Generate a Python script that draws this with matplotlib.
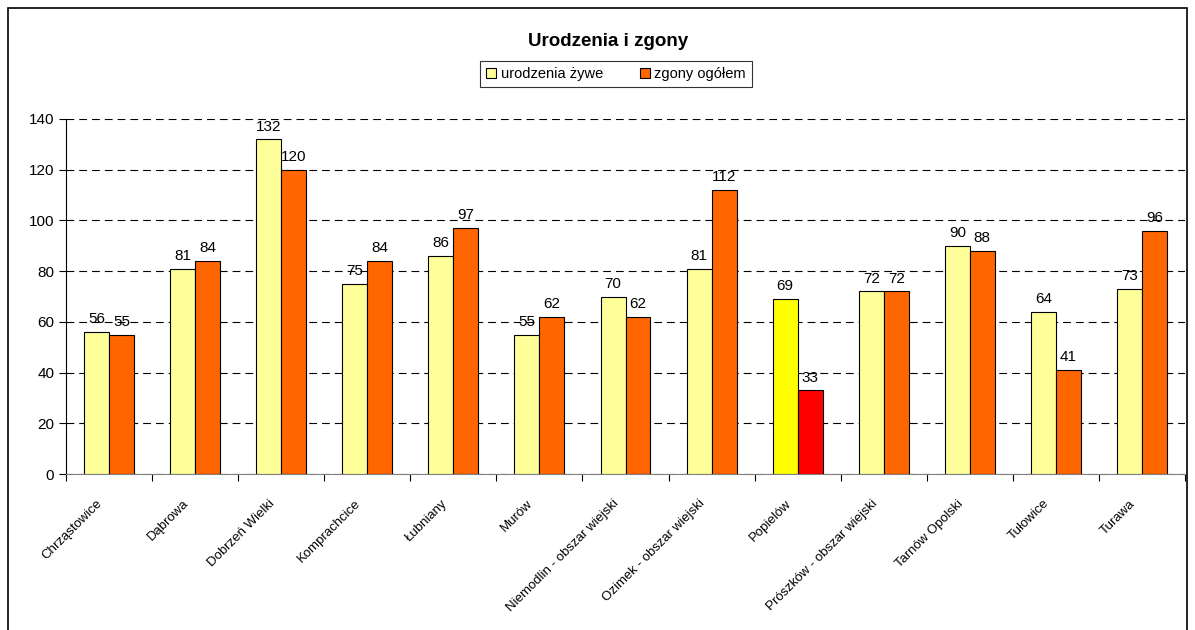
import numpy as np
import matplotlib.pyplot as plt
from matplotlib.patches import Rectangle, Patch
from matplotlib.transforms import ScaledTranslation

plt.rcParams['font.family'] = ['Liberation Sans', 'DejaVu Sans']

# data
gminy = ['Chrząstowice', 'Dąbrowa', 'Dobrzeń Wielki', 'Komprachcice', 'Łubniany',
         'Murów', 'Niemodlin - obszar wiejski', 'Ozimek - obszar wiejski', 'Popielów',
         'Prószków - obszar wiejski', 'Tarnów Opolski', 'Tułowice', 'Turawa']
urodzenia = [56, 81, 132, 75, 86, 55, 70, 81, 69, 72, 90, 64, 73]
zgony = [55, 84, 120, 84, 97, 62, 62, 112, 33, 72, 88, 41, 96]
wyrozniona = 'Popielów'

kol_ur = '#FFFF99'
kol_zg = '#FF6600'

fig = plt.figure(figsize=(11.95, 6.3), dpi=100)
fig.patches.append(Rectangle((8 / 1195, -0.1), 1179 / 1195, 1.1 - 8 / 630,
                             transform=fig.transFigure, fill=False,
                             edgecolor='black', linewidth=1.2))

ax = fig.add_axes([66 / 1195, 156 / 630, 1119 / 1195, 355 / 630])

x = np.arange(len(gminy))
w = 0.29
c_ur = ['#FFFF00' if g == wyrozniona else kol_ur for g in gminy]
c_zg = ['#FF0000' if g == wyrozniona else kol_zg for g in gminy]
b1 = ax.bar(x - w / 2, urodzenia, w, color=c_ur, edgecolor='black', linewidth=0.8, zorder=3)
b2 = ax.bar(x + w / 2, zgony, w, color=c_zg, edgecolor='black', linewidth=0.8, zorder=3)

for bars in (b1, b2):
    ax.bar_label(bars, padding=4, fontsize=11)

ax.set_xlim(-0.5, len(gminy) - 0.5)
ax.set_ylim(0, 140)
ax.set_yticks(range(0, 141, 20))
ax.tick_params(axis='y', labelsize=11, length=5, direction='out')
ax.yaxis.grid(True, linestyle=(0, (7, 4.5)), color='black', linewidth=0.8)

ax.set_xticks(np.arange(-0.5, len(gminy)), labels=[])
ax.tick_params(axis='x', which='major', length=5, direction='out')
ax.set_xticks(x, labels=gminy, minor=True)
ax.tick_params(axis='x', which='minor', length=0, pad=20, labelsize=9.5)
for lab in ax.get_xticklabels(minor=True):
    lab.set_rotation(45)
    lab.set_ha('right')
    lab.set_va('center')
    lab.set_rotation_mode('anchor')
    lab.set_transform(lab.get_transform() + ScaledTranslation(-6 / 72, 0, fig.dpi_scale_trans))

for s in ['top', 'right']:
    ax.spines[s].set_visible(False)
ax.spines['bottom'].set_color('#808080')

fig.text(608 / 1195, 1 - 42 / 630, 'Urodzenia i zgony', ha='center', va='center',
         fontsize=13.5, fontweight='bold')

uchwyty = [Patch(facecolor=kol_ur, edgecolor='black', linewidth=0.8),
           Patch(facecolor=kol_zg, edgecolor='black', linewidth=0.8)]
leg = fig.legend(uchwyty, ['urodzenia żywe', 'zgony ogółem'], loc='center',
                 bbox_to_anchor=(616 / 1195, 1 - 74 / 630), ncol=2, fontsize=10.5,
                 frameon=True, fancybox=False, edgecolor='black',
                 handlelength=0.7, handleheight=0.7, handletextpad=0.3,
                 columnspacing=2.5, borderpad=0.4)
leg.get_frame().set_linewidth(0.8)

fig.savefig('out.png', dpi=100)
